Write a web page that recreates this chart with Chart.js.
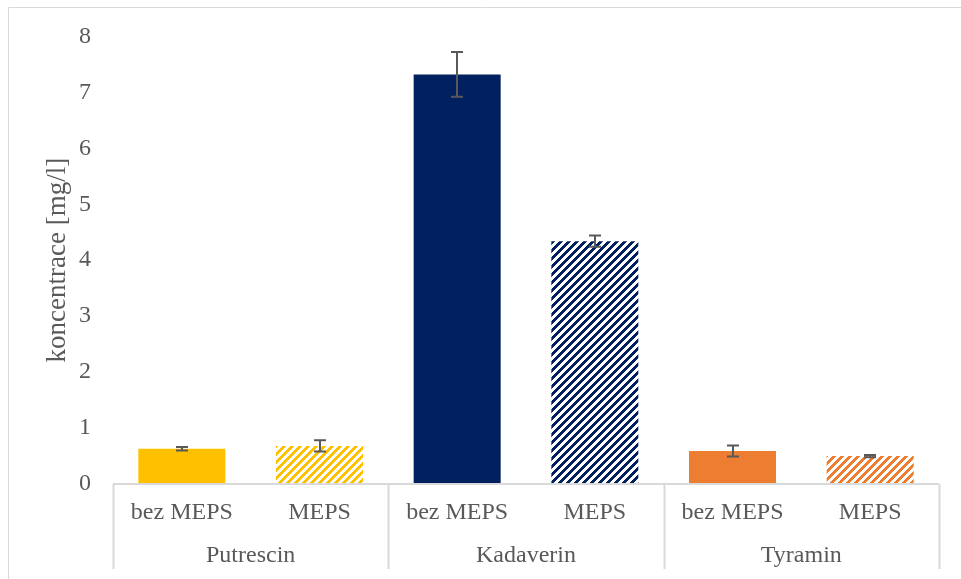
<!DOCTYPE html>
<html>
<head>
<meta charset="utf-8">
<script src="https://cdn.jsdelivr.net/npm/chart.js@4"></script>
<style>
  html, body { margin: 0; padding: 0; background: #ffffff; }
  #wrap { position: relative; width: 961px; height: 579px; }
</style>
</head>
<body>
<div id="wrap"><canvas id="chart" width="961" height="579"></canvas></div>
<script>
// Sample type within each amine, and the amine groups below them
const sampleLabels = ['bez MEPS', 'MEPS', 'bez MEPS', 'MEPS', 'bez MEPS', 'MEPS'];
const groupLabels = ['Putrescin', 'Kadaverin', 'Tyramin'];
// Mean concentration [mg/l] and its standard deviation
const concentrations = [0.63, 0.68, 7.32, 4.34, 0.59, 0.50];
const deviations = [0.03, 0.10, 0.40, 0.10, 0.10, 0.02];
const yTicks = [0, 1, 2, 3, 4, 5, 6, 7, 8];

const FONT = '"Liberation Serif", "Times New Roman", serif';
const TEXT = '#595959';
const LINE = '#d9d9d9';

// Wide upward diagonal hatch on white
function hatch(color) {
  const c = document.createElement('canvas');
  c.width = 8; c.height = 8;
  const g = c.getContext('2d');
  g.fillStyle = '#ffffff';
  g.fillRect(0, 0, 8, 8);
  g.fillStyle = color;
  for (let y = 0; y < 8; y++) {
    for (let x = 0; x < 8; x++) {
      if ((x + y) % 8 < 4) g.fillRect(x, y, 1, 1);
    }
  }
  return g.createPattern(c, 'repeat');
}

const yellow = '#FFC000', navy = '#002060', orange = '#ED7D31';
const fills = [yellow, hatch(yellow), navy, hatch(navy), orange, hatch(orange)];

// Frame, category axis line, group dividers and group names
const frame = {
  id: 'frame',
  beforeDraw(chart) {
    const ctx = chart.ctx;
    ctx.save();
    ctx.strokeStyle = LINE;
    ctx.lineWidth = 1;
    ctx.beginPath();
    ctx.moveTo(8.5, 579);
    ctx.lineTo(8.5, 7.5);
    ctx.lineTo(961, 7.5);
    ctx.stroke();
    ctx.restore();
  },
  afterDraw(chart) {
    const ctx = chart.ctx;
    const x = chart.scales.x;
    const area = chart.chartArea;
    const per = sampleLabels.length / groupLabels.length;
    ctx.save();
    ctx.strokeStyle = LINE;
    ctx.lineWidth = 2;
    ctx.beginPath();
    ctx.moveTo(area.left, area.bottom);
    ctx.lineTo(area.right, area.bottom);
    ctx.stroke();
    const step = (area.right - area.left) / sampleLabels.length;
    ctx.beginPath();
    for (let g = 0; g <= groupLabels.length; g++) {
      const px = Math.round(area.left + g * per * step) + 0.5;
      ctx.moveTo(px, area.bottom);
      ctx.lineTo(px, 569);
    }
    ctx.lineWidth = 2;
    ctx.stroke();
    ctx.fillStyle = TEXT;
    ctx.font = '24px ' + FONT;
    ctx.textAlign = 'center';
    ctx.textBaseline = 'middle';
    groupLabels.forEach((name, g) => {
      const a = x.getPixelForValue(g * per);
      const b = x.getPixelForValue(g * per + per - 1);
      ctx.fillText(name, (a + b) / 2, 556);
    });
    ctx.restore();
  }
};

// Error bars with caps
const errorBars = {
  id: 'errorBars',
  afterDatasetsDraw(chart) {
    const ctx = chart.ctx;
    const y = chart.scales.y;
    const meta = chart.getDatasetMeta(0);
    ctx.save();
    ctx.strokeStyle = '#595959';
    ctx.lineWidth = 2;
    meta.data.forEach((bar, i) => {
      const v = concentrations[i], e = deviations[i];
      const top = y.getPixelForValue(v + e);
      const bot = y.getPixelForValue(v - e);
      const cx = Math.round(bar.x);
      ctx.beginPath();
      ctx.moveTo(cx, top); ctx.lineTo(cx, bot);
      ctx.moveTo(cx - 6, top); ctx.lineTo(cx + 6, top);
      ctx.moveTo(cx - 6, bot); ctx.lineTo(cx + 6, bot);
      ctx.stroke();
    });
    ctx.restore();
  }
};

new Chart(document.getElementById('chart'), {
  type: 'bar',
  data: {
    labels: sampleLabels,
    datasets: [{
      data: concentrations,
      backgroundColor: fills,
      borderWidth: 0,
      categoryPercentage: 1,
      barPercentage: 0.632
    }]
  },
  options: {
    responsive: false,
    animation: false,
    events: [],
    layout: { padding: { left: 0, right: 22, top: 36, bottom: 0 } },
    plugins: { legend: { display: false }, tooltip: { enabled: false } },
    scales: {
      x: {
        grid: { display: false, drawTicks: false },
        border: { display: false },
        ticks: {
          color: TEXT,
          font: { family: FONT, size: 24 },
          padding: 14,
          maxRotation: 0,
          autoSkip: false
        },
        afterFit(s) { s.height = 95; }
      },
      y: {
        min: 0,
        max: 8,
        afterBuildTicks(s) { s.ticks = yTicks.map(v => ({ value: v })); },
        grid: { display: false, drawTicks: false },
        border: { display: false },
        ticks: {
          color: TEXT,
          font: { family: FONT, size: 24 },
          padding: 22
        },
        title: {
          display: true,
          text: 'koncentrace [mg/l]',
          color: TEXT,
          font: { family: FONT, size: 27 },
          padding: { top: 42, bottom: 0 }
        },
        afterFit(s) { s.width = 113; }
      }
    }
  },
  plugins: [frame, errorBars]
});
</script>
</body>
</html>
